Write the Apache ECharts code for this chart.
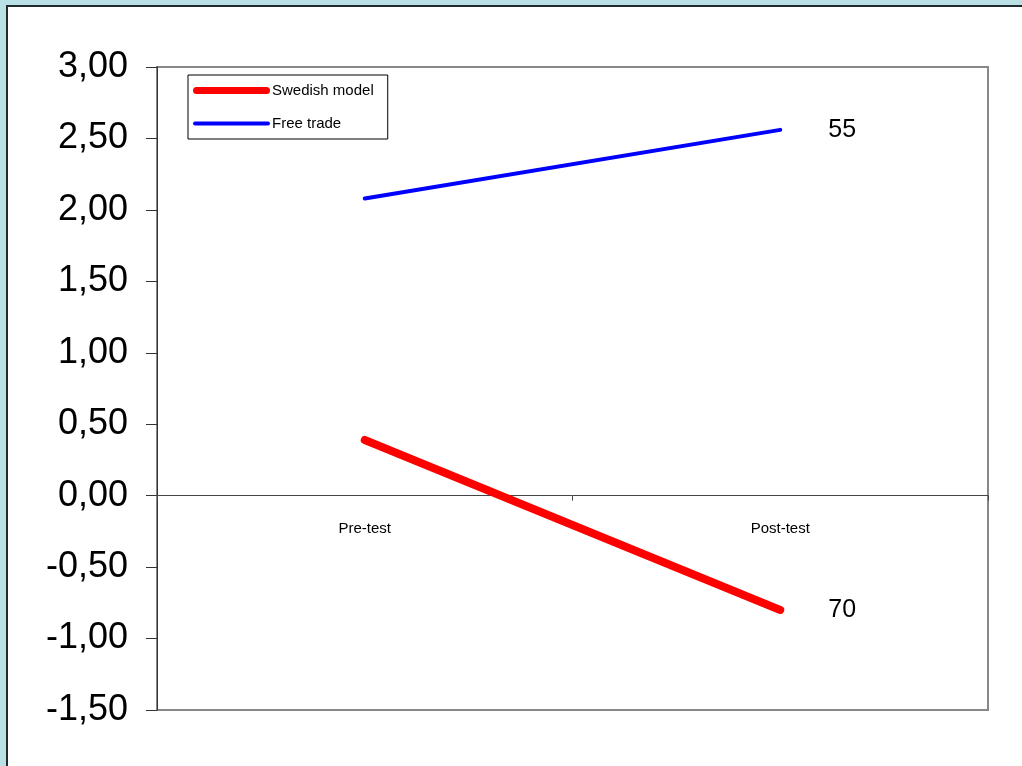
<!DOCTYPE html>
<html>
<head>
<meta charset="utf-8">
<script src="https://cdn.jsdelivr.net/npm/echarts@6/dist/echarts.min.js"></script>
<style>
  html, body { margin: 0; padding: 0; }
  #chart { width: 1022px; height: 766px; }
</style>
</head>
<body>
<div id="chart"></div>
<script>
// Survey means, pre-test vs post-test, by treatment group
var categories = ['Pre-test', 'Post-test'];
var seriesNames = ['Swedish model', 'Free trade'];
var swedishModel = [0.39, -0.80];
var freeTrade = [2.08, 2.56];
// group sizes printed after the last point of each line
var groupSizes = ['70', '55'];
var yTicks = { min: -1.5, max: 3.0, step: 0.5 };

var FONT = '"Liberation Sans", Arial, sans-serif';

// rounded bar used as a legend key, w x h with round ends
function keyIcon(w, h) {
  var r = h / 2;
  return 'path://M' + r + ',0 H' + (w - r) + ' A' + r + ',' + r + ' 0 0 1 ' + (w - r) + ',' + h +
    ' H' + r + ' A' + r + ',' + r + ' 0 0 1 ' + r + ',0 Z';
}

function endLabel(text) {
  return {
    show: true, distance: 48,
    formatter: function () { return text; },
    color: '#000', fontSize: 25, fontFamily: FONT
  };
}

var chart = echarts.init(document.getElementById('chart'), null, { renderer: 'canvas' });
var option = {
  backgroundColor: '#b9e0e4',
  animation: false,
  graphic: [{
    type: 'rect', z: -10, silent: true,
    shape: { x: 7, y: 6, width: 1030, height: 780 },
    style: { fill: '#ffffff', stroke: '#1e2a2c', lineWidth: 2 }
  }],
  grid: {
    left: 157, top: 67, right: 34, bottom: 56,
    show: true, borderColor: '#888888', borderWidth: 2, backgroundColor: 'transparent'
  },
  legend: {
    orient: 'vertical', left: 188, top: 75,
    padding: [8, 14, 8, 5], itemGap: 18, itemWidth: 77, itemHeight: 14,
    borderColor: '#000', borderWidth: 1, backgroundColor: '#fff',
    symbolKeepAspect: true,
    textStyle: { fontSize: 15, fontFamily: FONT, color: '#000', padding: [0, 0, 0, -3] },
    data: [
      { name: seriesNames[0], icon: keyIcon(77, 7) },
      { name: seriesNames[1], icon: keyIcon(77, 4) }
    ]
  },
  xAxis: {
    type: 'category', data: categories, boundaryGap: true,
    position: 'bottom', offset: 0,
    axisLine: { onZero: false, lineStyle: { color: '#444', width: 1 } },
    axisTick: { show: true, length: 5, lineStyle: { color: '#444' } },
    axisLabel: { margin: 26, fontSize: 15, fontFamily: FONT, color: '#000' },
    splitLine: { show: false }
  },
  yAxis: {
    type: 'value', min: yTicks.min, max: yTicks.max, interval: yTicks.step,
    axisLine: { show: true, lineStyle: { color: '#333', width: 1 } },
    axisTick: { show: true, length: 11, lineStyle: { color: '#333' } },
    axisLabel: {
      margin: 29, fontSize: 36, fontFamily: FONT, color: '#000',
      formatter: function (v) { return v.toFixed(2).replace('.', ','); }
    },
    splitLine: { show: false }
  },
  series: [{
    name: seriesNames[0], type: 'line', symbol: 'none',
    data: swedishModel,
    endLabel: endLabel(groupSizes[0]),
    lineStyle: { color: '#ff0000', width: 8, cap: 'round' },
    itemStyle: { color: '#ff0000' }
  }, {
    name: seriesNames[1], type: 'line', symbol: 'none',
    data: freeTrade,
    endLabel: endLabel(groupSizes[1]),
    lineStyle: { color: '#0000ff', width: 4, cap: 'round' },
    itemStyle: { color: '#0000ff' }
  }]
};
chart.setOption(option);

// Move the category axis up to the zero line, using the value axis scale
var zeroY = chart.convertToPixel({ yAxisIndex: 0 }, 0);
var bottomY = chart.convertToPixel({ yAxisIndex: 0 }, yTicks.min);
chart.setOption({ xAxis: { offset: zeroY - bottomY } });
</script>
</body>
</html>
